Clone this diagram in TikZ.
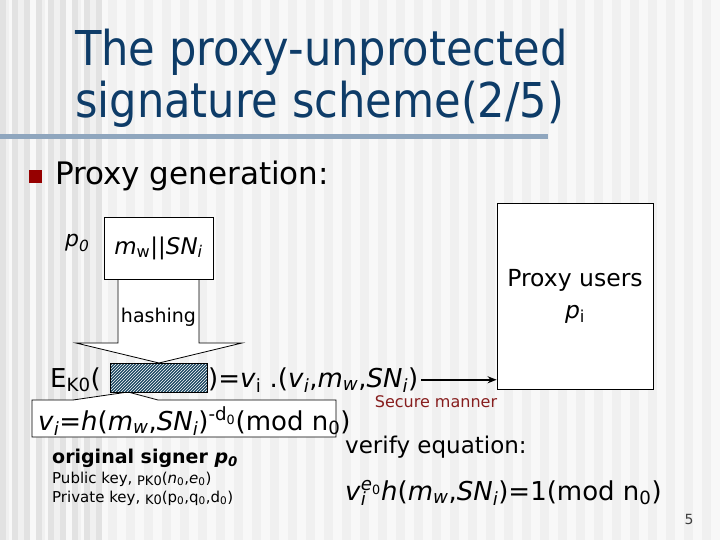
\documentclass[tikz,border=0pt]{standalone}
\usepackage{xcolor}
\usepackage{fontspec}
\setmainfont{DejaVu Sans}
\newfontfamily\titlefont{DejaVu Sans Condensed}
\usepackage{tikz}
\usetikzlibrary{positioning, patterns, arrows.meta}

\definecolor{titleblue}{RGB}{14,60,104}
\definecolor{rulegray}{RGB}{143,166,190}
\definecolor{bulletred}{RGB}{150,0,0}
\definecolor{hatchblue}{RGB}{28,72,98}
\definecolor{securered}{RGB}{135,30,30}
\definecolor{bgbase}{RGB}{248,248,248}
\definecolor{bgstripe}{RGB}{240,240,240}
\definecolor{bgleft}{RGB}{226,226,226}

\newcommand{\eqsize}{\fontsize{26}{30}\selectfont}
\newcommand{\keysize}{\fontsize{15}{18}\selectfont}
\newcommand{\lowtext}[1]{\raisebox{-2.5pt}{\fontsize{13}{15}\selectfont #1}}

\begin{document}
\begin{tikzpicture}[
  x=1pt, y=-1pt,
  box/.style={rectangle, draw=black, fill=white, line width=0.8pt, inner sep=0pt},
  panel/.style={draw=black, fill=white, line width=0.8pt},
  txt/.style={anchor=base west, inner sep=0pt},
  titletext/.style={txt, text=titleblue, font=\titlefont\fontsize{48}{54}\selectfont},
  arrow/.style={line width=1.6pt, -{Stealth[length=9pt, width=7pt]}}
]

% slide background
\useasboundingbox (0,0) rectangle (720,540);
\fill [bgbase] (0,0) rectangle (720,540);
\foreach \x in {0,18,...,702}
  \fill [bgstripe] (\x,0) rectangle ++(9,540);
\foreach \x in {0,12,...,96}
  \fill [bgleft] (\x,0) rectangle ++(6,540);

% title
\node (title1) [titletext] at (75,66) {The proxy-unprotected};
\node (title2) [titletext] at (75,118) {signature scheme(2/5)};
\draw [rulegray, line width=5pt] (0,137) -- (548,137);

\node (bullet) [fill=bulletred, minimum size=13pt, inner sep=0pt] at (35.5,176.5) {};
\node (gen) [txt, font=\fontsize{31}{36}\selectfont] at (55,185) {Proxy generation:};

% hashing arrow and signed block
\filldraw [panel] (118,279) -- (118,343) -- (76,343) -- (159,363) -- (242,343) -- (199,343) -- (199,279);
\filldraw [panel] (32,400) -- (73,400) -- (128,392) -- (158,400) -- (336,400) -- (336,437) -- (32,437) -- cycle;

\node (signer) [txt, font=\fontsize{22}{26}\selectfont\itshape] at (65,247) {p\textsubscript{0}};
\node (msg) [box, minimum width=109pt, minimum height=62pt, font=\fontsize{23}{26}\selectfont] at (158.5,248)
  {\textit{m}\textsubscript{w}||\textit{SN}\textsubscript{\textit{i}}};
\node (hashlbl) [font=\fontsize{19}{22}\selectfont] at (158.5,317) {hashing};
\node (hash) [draw=black, preaction={fill=hatchblue}, pattern=north east lines, pattern color=white,
  minimum width=97pt, minimum height=29pt, inner sep=0pt] at (158.5,377.5) {};

\node (eka) [txt, font=\eqsize] at (50,387) {E\textsubscript{K0}(};
\node (result) [txt, font=\eqsize] at (208,387)
  {)=\textit{v}\textsubscript{i} .(\textit{v}\textsubscript{\textit{i}},\textit{m}\textsubscript{\textit{w}},\textit{SN}\textsubscript{\textit{i}})};

\node (proxy) [box, minimum width=156pt, minimum height=186pt, align=center, font=\fontsize{23.5}{32}\selectfont] at (575,296)
  {Proxy users\\\textit{p}\textsubscript{i}};
\draw [arrow] ([xshift=3pt]result.east) -- (result.east -| proxy.west);
\node (manner) [font=\fontsize{16}{18}\selectfont, text=securered] at (436,402) {Secure manner};

\node (sigeq) [txt, font=\eqsize] at (38,430)
  {\textit{v}\textsubscript{\textit{i}}=\textit{h}(\textit{m}\textsubscript{\textit{w}},\textit{SN}\textsubscript{\textit{i}})\textsuperscript{-d\textsubscript{0}}(mod n\textsubscript{0})};

% keys of the original signer
\node (origin) [txt, font=\fontsize{19}{22}\selectfont\bfseries] at (52,463) {original signer \textit{p}\textsubscript{\textit{0}}};
\node (pubkey) [txt, font=\keysize] at (52,483)
  {Public key, \lowtext{PK0}(\textit{n}\textsubscript{0},\textit{e}\textsubscript{0})};
\node (privkey) [txt, font=\keysize] at (52,502)
  {Private key, \lowtext{K0}(p\textsubscript{0},q\textsubscript{0},d\textsubscript{0})};

% verification
\node (verify) [txt, font=\fontsize{23}{26}\selectfont] at (345,453) {verify equation:};
\node (verifyeq) [txt, font=\eqsize] at (345,500)
  {\textit{v}\rlap{\textsubscript{\textit{i}}}\textsuperscript{\textit{e}\textsubscript{0}}\textit{h}(\textit{m}\textsubscript{\textit{w}},\textit{SN}\textsubscript{\textit{i}})=1(mod n\textsubscript{0})};

\node (pagenum) [font=\fontsize{14}{16}\selectfont, text=darkgray] at (689,519) {5};

\end{tikzpicture}
\end{document}
